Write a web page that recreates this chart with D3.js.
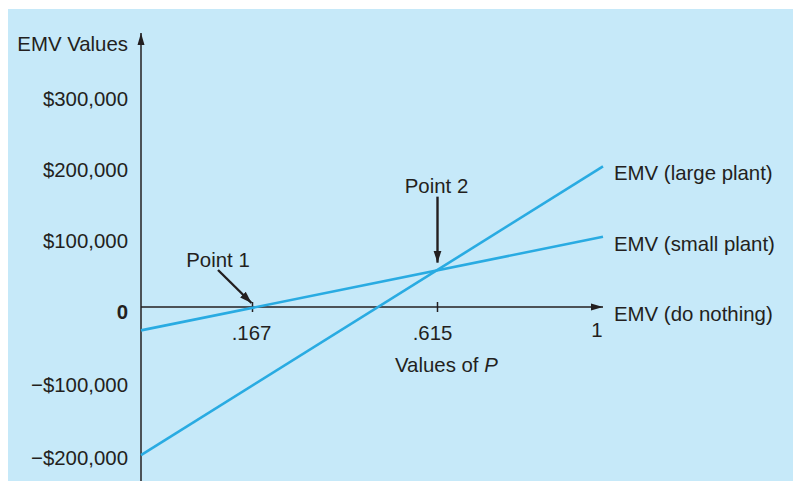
<!DOCTYPE html>
<html>
<head>
    <script src="https://d3js.org/d3.v7.min.js"></script>
    <title>EMV vs P</title>
</head>
<style>
    body { margin: 0; background: white; }
    text { font-family: 'Liberation Sans', Arial, sans-serif; font-size: 20.4px; fill: #231f20; }
</style>
<body>
<div id="chart"></div>
<script>
  // values
  var probs = [0, 1];
  var largePlant = [-203000, 198000];
  var smallPlant = [-32000, 99000];
  var doNothing = [0, 0];

  var yTicks = [300000, 200000, 100000, 0, -100000, -200000];
  var yTickLabels = ["$300,000", "$200,000", "$100,000", "0", "\u2212$100,000", "\u2212$200,000"];
  var xTicks = [0.167, 0.615, 1];
  var xTickLabels = [".167", ".615", "1"];

  var points = [
      {"name": "Point 1", "p": 0.167, "v": 0},
      {"name": "Point 2", "p": 0.615, "v": 52600}
  ];

  var svg = d3.select("#chart").append("svg")
      .attr("width", 793)
      .attr("height", 481);

  svg.append("rect")
      .attr("x", 8).attr("y", 9)
      .attr("width", 785).attr("height", 472)
      .style("fill", "#c6e9f9");

  // the figure is a sketch, not to scale, so both scales are piecewise
  var x = d3.scaleLinear()
      .domain([0, 0.167, 0.615, 1])
      .range([141, 252.5, 437.5, 603]);

  var y = d3.scaleLinear()
      .domain([-200000, 0, 300000])
      .range([453, 307, 94]);

  var defs = svg.append("defs");
  defs.append("marker")
      .attr("id", "axisHead")
      .attr("markerUnits", "userSpaceOnUse")
      .attr("markerWidth", 14).attr("markerHeight", 10)
      .attr("refX", 12).attr("refY", 5)
      .attr("orient", "auto")
      .append("path")
      .attr("d", "M0,1.5 L12,5 L0,8.5 Z")
      .style("fill", "#231f20");
  defs.append("marker")
      .attr("id", "noteHead")
      .attr("markerUnits", "userSpaceOnUse")
      .attr("markerWidth", 14).attr("markerHeight", 10)
      .attr("refX", 12).attr("refY", 5)
      .attr("orient", "auto")
      .append("path")
      .attr("d", "M0,1 L12,5 L0,9 Z")
      .style("fill", "#231f20");

  //AXES
  svg.append("line")
      .attr("x1", x(0)).attr("y1", 481)
      .attr("x2", x(0)).attr("y2", 33)
      .attr("stroke", "#231f20").attr("stroke-width", 1.5)
      .attr("marker-end", "url(#axisHead)");

  svg.append("line")
      .attr("x1", x(0)).attr("y1", y(0))
      .attr("x2", x(1)).attr("y2", y(0))
      .attr("stroke", "#231f20").attr("stroke-width", 1.5)
      .attr("marker-end", "url(#axisHead)");

  svg.selectAll(".xtick")
      .data(xTicks.slice(0, 2))
      .enter().append("line")
      .attr("class", "xtick")
      .attr("x1", function(d) { return x(d); })
      .attr("x2", function(d) { return x(d); })
      .attr("y1", y(0) - 5)
      .attr("y2", y(0) + 5)
      .attr("stroke", "#231f20").attr("stroke-width", 1.5);

  svg.selectAll(".xlab")
      .data(xTicks)
      .enter().append("text")
      .attr("class", "xlab")
      .attr("x", function(d, i) { return x(d) + [-1, -5, -6][i]; })
      .attr("y", function(d, i) { return i == 2 ? y(0) + 30 : y(0) + 33; })
      .attr("text-anchor", "middle")
      .text(function(d, i) { return xTickLabels[i]; });

  var xTitle = svg.append("text")
      .attr("x", 395).attr("y", 372);
  xTitle.append("tspan").text("Values of ");
  xTitle.append("tspan").style("font-style", "italic").text("P");

  svg.selectAll(".ylab")
      .data(yTicks)
      .enter().append("text")
      .attr("class", "ylab")
      .attr("x", 128)
      .attr("y", function(d) { return y(d) + 12; })
      .attr("text-anchor", "end")
      .style("font-weight", function(d) { return d == 0 ? "bold" : "normal"; })
      .text(function(d, i) { return yTickLabels[i]; });

  svg.append("text")
      .attr("x", 128).attr("y", 51)
      .attr("text-anchor", "end")
      .text("EMV Values");

  //LINES
  var series = [
      {"name": "EMV (large plant)", "values": largePlant, "draw": true},
      {"name": "EMV (small plant)", "values": smallPlant, "draw": true},
      {"name": "EMV (do nothing)", "values": doNothing, "draw": false}
  ];

  var lineFunction = d3.line()
      .x(function(d) { return x(d[0]); })
      .y(function(d) { return y(d[1]); });

  svg.selectAll(".emv")
      .data(series.filter(function(d) { return d.draw; }))
      .enter().append("path")
      .attr("class", "emv")
      .attr("d", function(d) { return lineFunction(d3.zip(probs, d.values)); })
      .attr("stroke", "#29abe2")
      .attr("stroke-width", 2.6)
      .attr("fill", "none");

  svg.selectAll(".serieslab")
      .data(series)
      .enter().append("text")
      .attr("class", "serieslab")
      .attr("x", x(1) + 11)
      .attr("y", function(d) { return y(d.values[1]) + 14; })
      .text(function(d) { return d.name; });

  //POINT NOTES
  var noteOffsets = [
      {"tx": -34.5, "ty": -40, "x1": -34.5, "y1": -37, "x2": -1, "y2": -4},
      {"tx": -1, "ty": -77, "x1": 0, "y1": -73, "x2": 0, "y2": -7}
  ];

  var notes = svg.selectAll(".note")
      .data(points)
      .enter().append("g")
      .attr("class", "note")
      .attr("transform", function(d) { return "translate(" + x(d.p) + "," + y(d.v) + ")"; });

  notes.append("text")
      .attr("x", function(d, i) { return noteOffsets[i].tx; })
      .attr("y", function(d, i) { return noteOffsets[i].ty; })
      .attr("text-anchor", "middle")
      .text(function(d) { return d.name; });

  notes.append("line")
      .attr("x1", function(d, i) { return noteOffsets[i].x1; })
      .attr("y1", function(d, i) { return noteOffsets[i].y1; })
      .attr("x2", function(d, i) { return noteOffsets[i].x2; })
      .attr("y2", function(d, i) { return noteOffsets[i].y2; })
      .attr("stroke", "#231f20").attr("stroke-width", 2.4)
      .attr("marker-end", "url(#noteHead)");
</script>
</body>
</html>
